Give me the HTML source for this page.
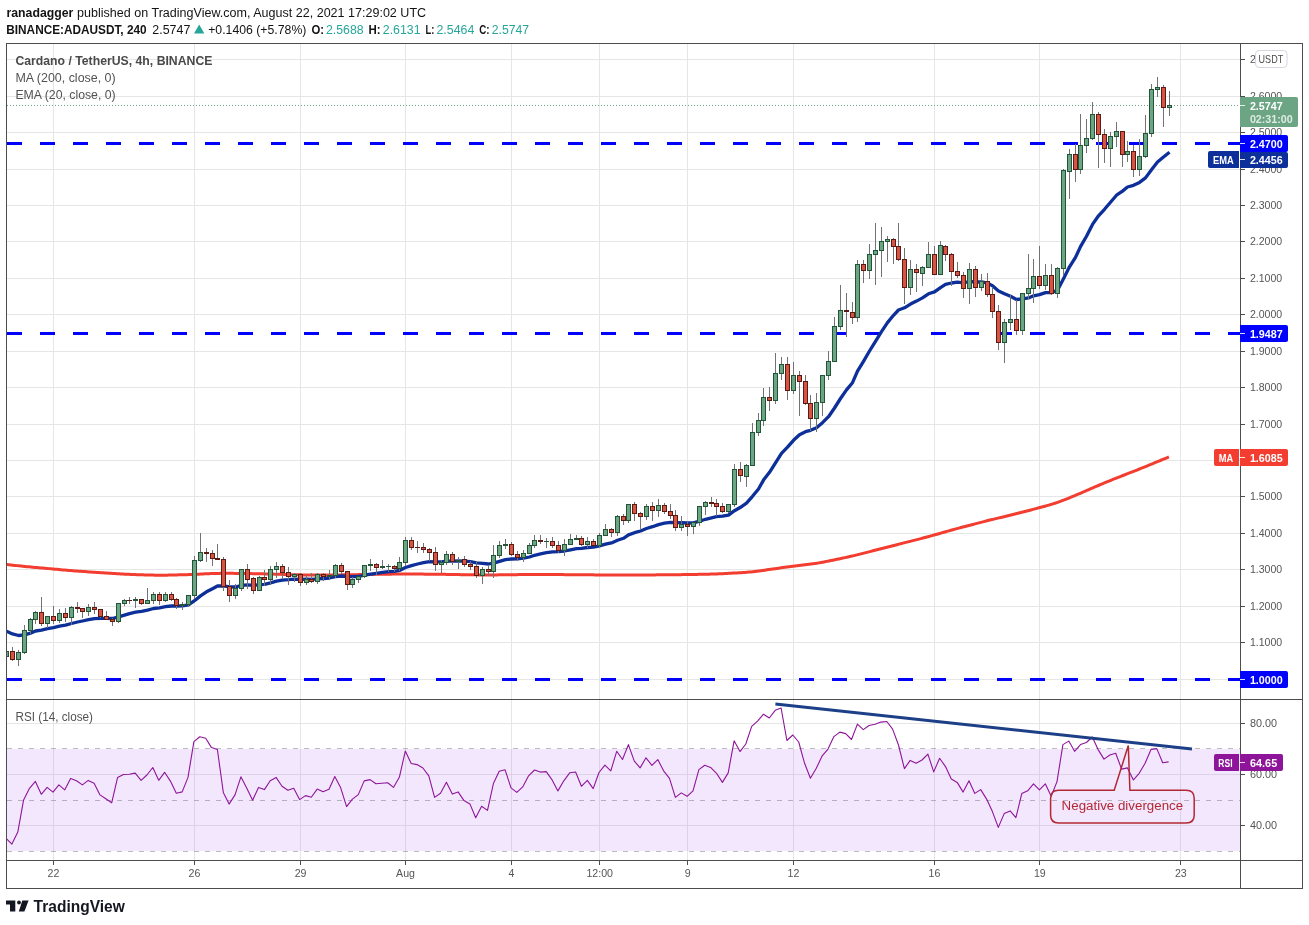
<!DOCTYPE html>
<html lang="en"><head><meta charset="utf-8"><title>ADAUSDT 4h chart</title>
<style>html,body{margin:0;padding:0;background:#fff;}svg{display:block;}</style></head>
<body>
<svg width="1309" height="925" viewBox="0 0 1309 925" font-family="Liberation Sans, Arial, sans-serif">
<rect width="1309" height="925" fill="#ffffff"/>
<text x="6.5" y="16.6" font-size="12.5" fill="#131313" font-weight="bold" text-anchor="start" textLength="66.8" lengthAdjust="spacingAndGlyphs">ranadagger</text>
<text x="77.1" y="16.6" font-size="12.5" fill="#131313" font-weight="normal" text-anchor="start" textLength="349" lengthAdjust="spacingAndGlyphs">published on TradingView.com, August 22, 2021 17:29:02 UTC</text>
<text x="6.3" y="33.8" font-size="12.5" fill="#131313" font-weight="bold" text-anchor="start" textLength="140.3" lengthAdjust="spacingAndGlyphs">BINANCE:ADAUSDT, 240</text>
<text x="152.3" y="33.8" font-size="12.5" fill="#131313" font-weight="normal" text-anchor="start" textLength="38" lengthAdjust="spacingAndGlyphs">2.5747</text>
<path d="M194.0 33.6 L199.2 24.4 L204.4 33.6 Z" fill="#26a69a"/>
<text x="208.2" y="33.8" font-size="12.5" fill="#131313" font-weight="normal" text-anchor="start" textLength="98.2" lengthAdjust="spacingAndGlyphs">+0.1406 (+5.78%)</text>
<text x="311.4" y="33.8" font-size="12.5" fill="#131313" font-weight="bold" text-anchor="start" textLength="12.6" lengthAdjust="spacingAndGlyphs">O:</text>
<text x="326" y="33.8" font-size="12.5" fill="#26a69a" font-weight="normal" text-anchor="start" textLength="37.6" lengthAdjust="spacingAndGlyphs">2.5688</text>
<text x="368.6" y="33.8" font-size="12.5" fill="#131313" font-weight="bold" text-anchor="start" textLength="12.1" lengthAdjust="spacingAndGlyphs">H:</text>
<text x="382.8" y="33.8" font-size="12.5" fill="#26a69a" font-weight="normal" text-anchor="start" textLength="37.8" lengthAdjust="spacingAndGlyphs">2.6131</text>
<text x="425.6" y="33.8" font-size="12.5" fill="#131313" font-weight="bold" text-anchor="start" textLength="8.8" lengthAdjust="spacingAndGlyphs">L:</text>
<text x="436.5" y="33.8" font-size="12.5" fill="#26a69a" font-weight="normal" text-anchor="start" textLength="37.8" lengthAdjust="spacingAndGlyphs">2.5464</text>
<text x="479.3" y="33.8" font-size="12.5" fill="#131313" font-weight="bold" text-anchor="start" textLength="10.3" lengthAdjust="spacingAndGlyphs">C:</text>
<text x="491.7" y="33.8" font-size="12.5" fill="#26a69a" font-weight="normal" text-anchor="start" textLength="37.4" lengthAdjust="spacingAndGlyphs">2.5747</text>
<g shape-rendering="crispEdges">
<rect x="53" y="44" width="1" height="816" fill="#e6e6e6"/>
<rect x="194" y="44" width="1" height="816" fill="#e6e6e6"/>
<rect x="300" y="44" width="1" height="816" fill="#e6e6e6"/>
<rect x="405" y="44" width="1" height="816" fill="#e6e6e6"/>
<rect x="511" y="44" width="1" height="816" fill="#e6e6e6"/>
<rect x="599" y="44" width="1" height="816" fill="#e6e6e6"/>
<rect x="687" y="44" width="1" height="816" fill="#e6e6e6"/>
<rect x="793" y="44" width="1" height="816" fill="#e6e6e6"/>
<rect x="934" y="44" width="1" height="816" fill="#e6e6e6"/>
<rect x="1039" y="44" width="1" height="816" fill="#e6e6e6"/>
<rect x="1180" y="44" width="1" height="816" fill="#e6e6e6"/>
<rect x="7" y="679" width="1233" height="1" fill="#e6e6e6"/>
<rect x="7" y="642" width="1233" height="1" fill="#e6e6e6"/>
<rect x="7" y="606" width="1233" height="1" fill="#e6e6e6"/>
<rect x="7" y="569" width="1233" height="1" fill="#e6e6e6"/>
<rect x="7" y="533" width="1233" height="1" fill="#e6e6e6"/>
<rect x="7" y="496" width="1233" height="1" fill="#e6e6e6"/>
<rect x="7" y="460" width="1233" height="1" fill="#e6e6e6"/>
<rect x="7" y="424" width="1233" height="1" fill="#e6e6e6"/>
<rect x="7" y="387" width="1233" height="1" fill="#e6e6e6"/>
<rect x="7" y="351" width="1233" height="1" fill="#e6e6e6"/>
<rect x="7" y="314" width="1233" height="1" fill="#e6e6e6"/>
<rect x="7" y="278" width="1233" height="1" fill="#e6e6e6"/>
<rect x="7" y="241" width="1233" height="1" fill="#e6e6e6"/>
<rect x="7" y="205" width="1233" height="1" fill="#e6e6e6"/>
<rect x="7" y="169" width="1233" height="1" fill="#e6e6e6"/>
<rect x="7" y="132" width="1233" height="1" fill="#e6e6e6"/>
<rect x="7" y="96" width="1233" height="1" fill="#e6e6e6"/>
<rect x="7" y="59" width="1233" height="1" fill="#e6e6e6"/>
<rect x="7" y="723" width="1233" height="1" fill="#e6e6e6"/>
<rect x="7" y="774" width="1233" height="1" fill="#e6e6e6"/>
<rect x="7" y="825" width="1233" height="1" fill="#e6e6e6"/>
</g>
<rect x="7" y="749" width="1233" height="102" fill="#a040f0" fill-opacity="0.125" shape-rendering="crispEdges"/>
<line x1="7" x2="1240" y1="748.5" y2="748.5" stroke="#87808c" stroke-opacity="0.55" stroke-width="1" stroke-dasharray="5 6" shape-rendering="crispEdges"/>
<line x1="7" x2="1240" y1="800.5" y2="800.5" stroke="#87808c" stroke-opacity="0.55" stroke-width="1" stroke-dasharray="5 6" shape-rendering="crispEdges"/>
<line x1="7" x2="1240" y1="851.5" y2="851.5" stroke="#87808c" stroke-opacity="0.55" stroke-width="1" stroke-dasharray="5 6" shape-rendering="crispEdges"/>
<clipPath id="cp"><rect x="7" y="44" width="1233" height="655"/></clipPath>
<g clip-path="url(#cp)">
<line x1="7" x2="1240" y1="143.5" y2="143.5" stroke="#0000ff" stroke-width="3.2" stroke-dasharray="15 18"/>
<line x1="7" x2="1240" y1="333.5" y2="333.5" stroke="#0000ff" stroke-width="3.2" stroke-dasharray="15 18"/>
<line x1="7" x2="1240" y1="679.5" y2="679.5" stroke="#0000ff" stroke-width="3.2" stroke-dasharray="15 18"/>
<line x1="7" x2="1240" y1="105.5" y2="105.5" stroke="#6ba583" stroke-width="1" stroke-dasharray="1 2" shape-rendering="crispEdges"/>
<polyline points="6.9,564.60 8.9,564.80 10.9,565.01 12.9,565.21 14.9,565.42 16.9,565.62 18.9,565.83 20.9,566.03 22.9,566.24 24.9,566.44 26.9,566.64 28.9,566.84 30.9,567.03 32.9,567.22 34.9,567.40 36.9,567.59 38.9,567.76 40.9,567.94 42.9,568.11 44.9,568.28 46.9,568.45 48.9,568.62 50.9,568.80 52.9,568.98 54.9,569.16 56.9,569.35 58.9,569.54 60.9,569.72 62.9,569.91 64.9,570.09 66.9,570.26 68.9,570.43 70.9,570.59 72.9,570.74 74.9,570.89 76.9,571.04 78.9,571.18 80.9,571.33 82.9,571.47 84.9,571.61 86.9,571.76 88.9,571.90 90.9,572.04 92.9,572.19 94.9,572.32 96.9,572.46 98.9,572.59 100.9,572.72 102.9,572.85 104.9,572.97 106.9,573.09 108.9,573.21 110.9,573.33 112.9,573.44 114.9,573.56 116.9,573.67 118.9,573.79 120.9,573.90 122.9,574.02 124.9,574.13 126.9,574.24 128.9,574.34 130.9,574.43 132.9,574.52 134.9,574.60 136.9,574.67 138.9,574.74 140.9,574.80 142.9,574.85 144.9,574.91 146.9,574.96 148.9,575.01 150.9,575.06 152.9,575.10 154.9,575.14 156.9,575.16 158.9,575.18 160.9,575.18 162.9,575.18 164.9,575.16 166.9,575.13 168.9,575.09 170.9,575.05 172.9,575.01 174.9,574.96 176.9,574.92 178.9,574.87 180.9,574.82 182.9,574.76 184.9,574.70 186.9,574.63 188.9,574.56 190.9,574.48 192.9,574.40 194.9,574.31 196.9,574.22 198.9,574.13 200.9,574.04 202.9,573.95 204.9,573.86 206.9,573.77 208.9,573.68 210.9,573.60 212.9,573.53 214.9,573.47 216.9,573.42 218.9,573.39 220.9,573.36 222.9,573.35 224.9,573.34 226.9,573.35 228.9,573.35 230.9,573.36 232.9,573.37 234.9,573.39 236.9,573.40 238.9,573.42 240.9,573.45 242.9,573.47 244.9,573.50 246.9,573.54 248.9,573.57 250.9,573.61 252.9,573.65 254.9,573.69 256.9,573.73 258.9,573.77 260.9,573.81 262.9,573.85 264.9,573.90 266.9,573.95 268.9,574.00 270.9,574.05 272.9,574.11 274.9,574.16 276.9,574.22 278.9,574.28 280.9,574.34 282.9,574.40 284.9,574.46 286.9,574.51 288.9,574.57 290.9,574.63 292.9,574.68 294.9,574.73 296.9,574.78 298.9,574.82 300.9,574.85 302.9,574.88 304.9,574.90 306.9,574.91 308.9,574.92 310.9,574.93 312.9,574.94 314.9,574.95 316.9,574.95 318.9,574.96 320.9,574.96 322.9,574.97 324.9,574.97 326.9,574.97 328.9,574.97 330.9,574.97 332.9,574.96 334.9,574.94 336.9,574.92 338.9,574.90 340.9,574.88 342.9,574.85 344.9,574.82 346.9,574.79 348.9,574.76 350.9,574.73 352.9,574.70 354.9,574.67 356.9,574.64 358.9,574.61 360.9,574.58 362.9,574.55 364.9,574.52 366.9,574.49 368.9,574.46 370.9,574.43 372.9,574.40 374.9,574.37 376.9,574.34 378.9,574.31 380.9,574.28 382.9,574.25 384.9,574.22 386.9,574.19 388.9,574.16 390.9,574.14 392.9,574.11 394.9,574.09 396.9,574.07 398.9,574.05 400.9,574.04 402.9,574.04 404.9,574.04 406.9,574.04 408.9,574.05 410.9,574.06 412.9,574.07 414.9,574.08 416.9,574.09 418.9,574.10 420.9,574.11 422.9,574.12 424.9,574.13 426.9,574.14 428.9,574.15 430.9,574.17 432.9,574.18 434.9,574.20 436.9,574.22 438.9,574.25 440.9,574.28 442.9,574.31 444.9,574.35 446.9,574.38 448.9,574.42 450.9,574.46 452.9,574.50 454.9,574.54 456.9,574.58 458.9,574.61 460.9,574.65 462.9,574.68 464.9,574.71 466.9,574.74 468.9,574.77 470.9,574.79 472.9,574.81 474.9,574.84 476.9,574.86 478.9,574.88 480.9,574.90 482.9,574.92 484.9,574.93 486.9,574.94 488.9,574.94 490.9,574.94 492.9,574.93 494.9,574.91 496.9,574.89 498.9,574.87 500.9,574.84 502.9,574.82 504.9,574.79 506.9,574.77 508.9,574.74 510.9,574.71 512.9,574.69 514.9,574.66 516.9,574.64 518.9,574.61 520.9,574.58 522.9,574.56 524.9,574.53 526.9,574.51 528.9,574.49 530.9,574.47 532.9,574.46 534.9,574.45 536.9,574.45 538.9,574.45 540.9,574.46 542.9,574.47 544.9,574.48 546.9,574.50 548.9,574.51 550.9,574.53 552.9,574.54 554.9,574.56 556.9,574.58 558.9,574.59 560.9,574.61 562.9,574.62 564.9,574.64 566.9,574.66 568.9,574.67 570.9,574.69 572.9,574.70 574.9,574.72 576.9,574.74 578.9,574.75 580.9,574.77 582.9,574.78 584.9,574.80 586.9,574.82 588.9,574.83 590.9,574.85 592.9,574.87 594.9,574.88 596.9,574.90 598.9,574.92 600.9,574.94 602.9,574.95 604.9,574.97 606.9,574.99 608.9,575.00 610.9,575.02 612.9,575.03 614.9,575.05 616.9,575.06 618.9,575.06 620.9,575.07 622.9,575.07 624.9,575.06 626.9,575.05 628.9,575.04 630.9,575.03 632.9,575.02 634.9,575.01 636.9,575.00 638.9,574.99 640.9,574.97 642.9,574.96 644.9,574.95 646.9,574.94 648.9,574.92 650.9,574.91 652.9,574.90 654.9,574.88 656.9,574.86 658.9,574.85 660.9,574.83 662.9,574.81 664.9,574.80 666.9,574.78 668.9,574.76 670.9,574.74 672.9,574.72 674.9,574.71 676.9,574.69 678.9,574.67 680.9,574.65 682.9,574.62 684.9,574.60 686.9,574.57 688.9,574.54 690.9,574.50 692.9,574.46 694.9,574.42 696.9,574.38 698.9,574.34 700.9,574.30 702.9,574.26 704.9,574.22 706.9,574.17 708.9,574.13 710.9,574.09 712.9,574.04 714.9,573.98 716.9,573.92 718.9,573.85 720.9,573.77 722.9,573.68 724.9,573.58 726.9,573.47 728.9,573.36 730.9,573.24 732.9,573.12 734.9,573.00 736.9,572.88 738.9,572.76 740.9,572.64 742.9,572.52 744.9,572.39 746.9,572.24 748.9,572.09 750.9,571.91 752.9,571.72 754.9,571.50 756.9,571.26 758.9,571.00 760.9,570.73 762.9,570.44 764.9,570.15 766.9,569.85 768.9,569.56 770.9,569.27 772.9,568.98 774.9,568.69 776.9,568.41 778.9,568.14 780.9,567.86 782.9,567.59 784.9,567.32 786.9,567.05 788.9,566.79 790.9,566.53 792.9,566.27 794.9,566.01 796.9,565.75 798.9,565.50 800.9,565.25 802.9,565.00 804.9,564.75 806.9,564.51 808.9,564.26 810.9,564.00 812.9,563.74 814.9,563.46 816.9,563.17 818.9,562.86 820.9,562.52 822.9,562.17 824.9,561.79 826.9,561.40 828.9,561.00 830.9,560.58 832.9,560.17 834.9,559.75 836.9,559.33 838.9,558.91 840.9,558.49 842.9,558.06 844.9,557.64 846.9,557.21 848.9,556.77 850.9,556.32 852.9,555.86 854.9,555.38 856.9,554.90 858.9,554.40 860.9,553.90 862.9,553.39 864.9,552.88 866.9,552.36 868.9,551.85 870.9,551.33 872.9,550.81 874.9,550.30 876.9,549.78 878.9,549.26 880.9,548.75 882.9,548.24 884.9,547.72 886.9,547.21 888.9,546.70 890.9,546.19 892.9,545.69 894.9,545.18 896.9,544.68 898.9,544.17 900.9,543.67 902.9,543.16 904.9,542.66 906.9,542.15 908.9,541.65 910.9,541.14 912.9,540.64 914.9,540.13 916.9,539.61 918.9,539.10 920.9,538.58 922.9,538.06 924.9,537.53 926.9,537.00 928.9,536.46 930.9,535.92 932.9,535.37 934.9,534.82 936.9,534.26 938.9,533.69 940.9,533.12 942.9,532.55 944.9,531.98 946.9,531.41 948.9,530.84 950.9,530.28 952.9,529.72 954.9,529.17 956.9,528.63 958.9,528.10 960.9,527.57 962.9,527.04 964.9,526.52 966.9,525.99 968.9,525.47 970.9,524.95 972.9,524.43 974.9,523.90 976.9,523.38 978.9,522.86 980.9,522.35 982.9,521.84 984.9,521.33 986.9,520.82 988.9,520.33 990.9,519.83 992.9,519.35 994.9,518.86 996.9,518.38 998.9,517.90 1000.9,517.42 1002.9,516.94 1004.9,516.46 1006.9,515.97 1008.9,515.49 1010.9,515.01 1012.9,514.53 1014.9,514.04 1016.9,513.54 1018.9,513.04 1020.9,512.54 1022.9,512.02 1024.9,511.51 1026.9,510.99 1028.9,510.46 1030.9,509.93 1032.9,509.40 1034.9,508.87 1036.9,508.33 1038.9,507.80 1040.9,507.26 1042.9,506.72 1044.9,506.18 1046.9,505.63 1048.9,505.08 1050.9,504.50 1052.9,503.90 1054.9,503.27 1056.9,502.61 1058.9,501.92 1060.9,501.19 1062.9,500.43 1064.9,499.65 1066.9,498.85 1068.9,498.04 1070.9,497.22 1072.9,496.40 1074.9,495.57 1076.9,494.73 1078.9,493.89 1080.9,493.04 1082.9,492.19 1084.9,491.33 1086.9,490.46 1088.9,489.59 1090.9,488.72 1092.9,487.85 1094.9,486.98 1096.9,486.11 1098.9,485.25 1100.9,484.40 1102.9,483.56 1104.9,482.72 1106.9,481.90 1108.9,481.09 1110.9,480.28 1112.9,479.48 1114.9,478.69 1116.9,477.89 1118.9,477.10 1120.9,476.31 1122.9,475.52 1124.9,474.74 1126.9,473.95 1128.9,473.17 1130.9,472.38 1132.9,471.60 1134.9,470.81 1136.9,470.03 1138.9,469.24 1140.9,468.44 1142.9,467.64 1144.9,466.83 1146.9,466.02 1148.9,465.20 1150.9,464.38 1152.9,463.55 1154.9,462.72 1156.9,461.90 1158.9,461.07 1160.9,460.25 1162.9,459.43 1164.9,458.61 1166.9,457.79 1168.9,456.97" fill="none" stroke="#f23d30" stroke-width="3.0" stroke-linejoin="round" stroke-linecap="butt"/>
<polyline points="6.5,631.3 12.5,633.9 18.5,635.5 24.5,634.9 30.5,633.2 35.5,631.0 41.5,630.1 47.5,628.6 53.5,627.6 59.5,626.1 65.5,625.2 71.5,623.5 77.5,622.0 82.5,621.0 88.5,619.7 94.5,618.6 100.5,618.3 106.5,618.3 112.5,618.5 118.5,616.9 124.5,615.1 129.5,613.6 135.5,612.2 141.5,611.3 147.5,610.1 153.5,608.5 159.5,607.8 165.5,606.7 171.5,606.0 176.5,606.0 182.5,605.8 188.5,604.9 194.5,600.7 200.5,595.9 206.5,591.8 212.5,588.7 217.5,586.0 223.5,585.9 229.5,586.8 235.5,587.0 241.5,585.4 247.5,584.9 253.5,585.4 259.5,584.7 264.5,584.3 270.5,582.8 276.5,581.1 282.5,580.1 288.5,579.7 294.5,579.1 300.5,579.3 306.5,579.2 311.5,579.4 317.5,578.8 323.5,578.5 329.5,578.0 335.5,576.7 341.5,576.0 347.5,576.6 352.5,576.6 358.5,576.5 364.5,575.2 370.5,574.1 376.5,573.3 382.5,572.4 388.5,571.7 394.5,571.3 399.5,570.4 405.5,567.5 411.5,565.6 417.5,564.0 423.5,562.6 429.5,561.6 435.5,561.8 441.5,561.8 446.5,561.1 452.5,561.1 458.5,561.0 464.5,561.2 470.5,561.6 476.5,562.8 482.5,563.3 488.5,564.0 493.5,563.1 499.5,561.3 505.5,559.6 511.5,559.0 517.5,558.8 523.5,558.2 529.5,557.0 534.5,555.3 540.5,553.9 546.5,552.7 552.5,551.9 558.5,551.7 564.5,551.0 570.5,549.8 576.5,548.7 581.5,548.3 587.5,547.5 593.5,547.2 599.5,545.9 605.5,544.2 611.5,542.9 617.5,540.3 623.5,538.3 628.5,534.9 634.5,532.7 640.5,531.0 646.5,528.5 652.5,526.7 658.5,524.6 664.5,523.2 670.5,522.4 675.5,522.7 681.5,522.7 687.5,523.0 693.5,522.8 699.5,521.2 705.5,519.3 711.5,517.8 716.5,516.7 722.5,516.2 728.5,515.1 734.5,510.7 740.5,507.3 746.5,503.2 752.5,496.3 758.5,489.0 763.5,480.1 769.5,472.3 775.5,462.8 781.5,453.3 787.5,447.2 793.5,440.3 799.5,434.7 805.5,431.7 810.5,430.3 816.5,427.7 822.5,422.7 828.5,416.7 834.5,408.0 840.5,398.5 846.5,389.9 852.5,382.7 857.5,371.2 863.5,361.3 869.5,351.0 875.5,341.3 881.5,331.6 887.5,322.6 893.5,315.3 898.5,310.0 904.5,307.8 910.5,304.1 916.5,301.1 922.5,297.9 928.5,293.8 934.5,291.9 940.5,287.6 945.5,284.4 951.5,283.0 957.5,282.2 963.5,282.8 969.5,281.5 975.5,282.0 981.5,281.9 987.5,283.1 992.5,285.7 998.5,290.9 1004.5,293.7 1010.5,296.2 1016.5,299.5 1022.5,298.9 1028.5,297.9 1033.5,295.8 1039.5,294.6 1045.5,292.6 1051.5,292.6 1057.5,290.2 1063.5,278.8 1069.5,266.8 1075.5,257.4 1080.5,246.6 1086.5,236.2 1092.5,224.4 1098.5,215.8 1104.5,209.3 1110.5,202.2 1116.5,195.2 1122.5,191.1 1127.5,187.0 1133.5,185.3 1139.5,182.4 1145.5,177.9 1151.5,169.7 1157.5,162.0 1163.5,157.0 1169.5,152.3" fill="none" stroke="#0c2f9a" stroke-width="3.3" stroke-linejoin="round" stroke-linecap="butt"/>
<g shape-rendering="crispEdges">
<rect x="6" y="651" width="1" height="6" fill="#737375"/>
<rect x="4" y="651" width="5" height="6" fill="#225437"/>
<rect x="5" y="652" width="3" height="4" fill="#6ba583"/>
<rect x="12" y="647" width="1" height="14" fill="#737375"/>
<rect x="10" y="651" width="5" height="9" fill="#5b1a13"/>
<rect x="11" y="652" width="3" height="7" fill="#d75442"/>
<rect x="18" y="650" width="1" height="16" fill="#737375"/>
<rect x="16" y="652" width="5" height="8" fill="#225437"/>
<rect x="17" y="653" width="3" height="6" fill="#6ba583"/>
<rect x="24" y="625" width="1" height="29" fill="#737375"/>
<rect x="22" y="630" width="5" height="23" fill="#225437"/>
<rect x="23" y="631" width="3" height="21" fill="#6ba583"/>
<rect x="30" y="618" width="1" height="16" fill="#737375"/>
<rect x="28" y="619" width="5" height="12" fill="#225437"/>
<rect x="29" y="620" width="3" height="10" fill="#6ba583"/>
<rect x="35" y="611" width="1" height="13" fill="#737375"/>
<rect x="33" y="612" width="5" height="8" fill="#225437"/>
<rect x="34" y="613" width="3" height="6" fill="#6ba583"/>
<rect x="41" y="597" width="1" height="29" fill="#737375"/>
<rect x="39" y="612" width="5" height="12" fill="#5b1a13"/>
<rect x="40" y="613" width="3" height="10" fill="#d75442"/>
<rect x="47" y="616" width="1" height="12" fill="#737375"/>
<rect x="45" y="616" width="5" height="8" fill="#225437"/>
<rect x="46" y="617" width="3" height="6" fill="#6ba583"/>
<rect x="53" y="606" width="1" height="18" fill="#737375"/>
<rect x="51" y="616" width="5" height="5" fill="#5b1a13"/>
<rect x="52" y="617" width="3" height="3" fill="#d75442"/>
<rect x="59" y="609" width="1" height="14" fill="#737375"/>
<rect x="57" y="613" width="5" height="8" fill="#225437"/>
<rect x="58" y="614" width="3" height="6" fill="#6ba583"/>
<rect x="65" y="608" width="1" height="14" fill="#737375"/>
<rect x="63" y="613" width="5" height="5" fill="#5b1a13"/>
<rect x="64" y="614" width="3" height="3" fill="#d75442"/>
<rect x="71" y="606" width="1" height="19" fill="#737375"/>
<rect x="69" y="607" width="5" height="11" fill="#225437"/>
<rect x="70" y="608" width="3" height="9" fill="#6ba583"/>
<rect x="77" y="602" width="1" height="11" fill="#737375"/>
<rect x="75" y="607" width="5" height="2" fill="#5b1a13"/>
<rect x="82" y="608" width="1" height="10" fill="#737375"/>
<rect x="80" y="608" width="5" height="4" fill="#5b1a13"/>
<rect x="81" y="609" width="3" height="2" fill="#d75442"/>
<rect x="88" y="604" width="1" height="12" fill="#737375"/>
<rect x="86" y="607" width="5" height="5" fill="#225437"/>
<rect x="87" y="608" width="3" height="3" fill="#6ba583"/>
<rect x="94" y="602" width="1" height="12" fill="#737375"/>
<rect x="92" y="607" width="5" height="3" fill="#5b1a13"/>
<rect x="93" y="608" width="3" height="1" fill="#d75442"/>
<rect x="100" y="609" width="1" height="9" fill="#737375"/>
<rect x="98" y="609" width="5" height="8" fill="#5b1a13"/>
<rect x="99" y="610" width="3" height="6" fill="#d75442"/>
<rect x="106" y="611" width="1" height="9" fill="#737375"/>
<rect x="104" y="616" width="5" height="4" fill="#5b1a13"/>
<rect x="105" y="617" width="3" height="2" fill="#d75442"/>
<rect x="112" y="618" width="1" height="8" fill="#737375"/>
<rect x="110" y="619" width="5" height="3" fill="#5b1a13"/>
<rect x="111" y="620" width="3" height="1" fill="#d75442"/>
<rect x="118" y="603" width="1" height="20" fill="#737375"/>
<rect x="116" y="603" width="5" height="19" fill="#225437"/>
<rect x="117" y="604" width="3" height="17" fill="#6ba583"/>
<rect x="124" y="599" width="1" height="7" fill="#737375"/>
<rect x="122" y="600" width="5" height="4" fill="#225437"/>
<rect x="123" y="601" width="3" height="2" fill="#6ba583"/>
<rect x="129" y="597" width="1" height="7" fill="#737375"/>
<rect x="127" y="600" width="5" height="1" fill="#5b1a13"/>
<rect x="135" y="597" width="1" height="11" fill="#737375"/>
<rect x="133" y="599" width="5" height="2" fill="#225437"/>
<rect x="141" y="599" width="1" height="6" fill="#737375"/>
<rect x="139" y="599" width="5" height="5" fill="#5b1a13"/>
<rect x="140" y="600" width="3" height="3" fill="#d75442"/>
<rect x="147" y="588" width="1" height="16" fill="#737375"/>
<rect x="145" y="600" width="5" height="4" fill="#225437"/>
<rect x="146" y="601" width="3" height="2" fill="#6ba583"/>
<rect x="153" y="592" width="1" height="12" fill="#737375"/>
<rect x="151" y="594" width="5" height="7" fill="#225437"/>
<rect x="152" y="595" width="3" height="5" fill="#6ba583"/>
<rect x="159" y="592" width="1" height="13" fill="#737375"/>
<rect x="157" y="594" width="5" height="7" fill="#5b1a13"/>
<rect x="158" y="595" width="3" height="5" fill="#d75442"/>
<rect x="165" y="592" width="1" height="10" fill="#737375"/>
<rect x="163" y="594" width="5" height="7" fill="#225437"/>
<rect x="164" y="595" width="3" height="5" fill="#6ba583"/>
<rect x="171" y="592" width="1" height="9" fill="#737375"/>
<rect x="169" y="594" width="5" height="6" fill="#5b1a13"/>
<rect x="170" y="595" width="3" height="4" fill="#d75442"/>
<rect x="176" y="598" width="1" height="11" fill="#737375"/>
<rect x="174" y="599" width="5" height="7" fill="#5b1a13"/>
<rect x="175" y="600" width="3" height="5" fill="#d75442"/>
<rect x="182" y="602" width="1" height="8" fill="#737375"/>
<rect x="180" y="604" width="5" height="2" fill="#225437"/>
<rect x="188" y="595" width="1" height="12" fill="#737375"/>
<rect x="186" y="595" width="5" height="10" fill="#225437"/>
<rect x="187" y="596" width="3" height="8" fill="#6ba583"/>
<rect x="194" y="556" width="1" height="43" fill="#737375"/>
<rect x="192" y="560" width="5" height="36" fill="#225437"/>
<rect x="193" y="561" width="3" height="34" fill="#6ba583"/>
<rect x="200" y="533" width="1" height="29" fill="#737375"/>
<rect x="198" y="552" width="5" height="9" fill="#225437"/>
<rect x="199" y="553" width="3" height="7" fill="#6ba583"/>
<rect x="206" y="548" width="1" height="14" fill="#737375"/>
<rect x="204" y="552" width="5" height="2" fill="#5b1a13"/>
<rect x="212" y="550" width="1" height="16" fill="#737375"/>
<rect x="210" y="553" width="5" height="6" fill="#5b1a13"/>
<rect x="211" y="554" width="3" height="4" fill="#d75442"/>
<rect x="217" y="544" width="1" height="16" fill="#737375"/>
<rect x="215" y="558" width="5" height="2" fill="#5b1a13"/>
<rect x="223" y="557" width="1" height="34" fill="#737375"/>
<rect x="221" y="559" width="5" height="28" fill="#5b1a13"/>
<rect x="222" y="560" width="3" height="26" fill="#d75442"/>
<rect x="229" y="580" width="1" height="22" fill="#737375"/>
<rect x="227" y="586" width="5" height="10" fill="#5b1a13"/>
<rect x="228" y="587" width="3" height="8" fill="#d75442"/>
<rect x="235" y="584" width="1" height="15" fill="#737375"/>
<rect x="233" y="588" width="5" height="8" fill="#225437"/>
<rect x="234" y="589" width="3" height="6" fill="#6ba583"/>
<rect x="241" y="569" width="1" height="22" fill="#737375"/>
<rect x="239" y="569" width="5" height="20" fill="#225437"/>
<rect x="240" y="570" width="3" height="18" fill="#6ba583"/>
<rect x="247" y="564" width="1" height="25" fill="#737375"/>
<rect x="245" y="569" width="5" height="11" fill="#5b1a13"/>
<rect x="246" y="570" width="3" height="9" fill="#d75442"/>
<rect x="253" y="577" width="1" height="17" fill="#737375"/>
<rect x="251" y="578" width="5" height="13" fill="#5b1a13"/>
<rect x="252" y="579" width="3" height="11" fill="#d75442"/>
<rect x="259" y="576" width="1" height="15" fill="#737375"/>
<rect x="257" y="577" width="5" height="14" fill="#225437"/>
<rect x="258" y="578" width="3" height="12" fill="#6ba583"/>
<rect x="264" y="570" width="1" height="16" fill="#737375"/>
<rect x="262" y="577" width="5" height="3" fill="#5b1a13"/>
<rect x="263" y="578" width="3" height="1" fill="#d75442"/>
<rect x="270" y="566" width="1" height="19" fill="#737375"/>
<rect x="268" y="569" width="5" height="11" fill="#225437"/>
<rect x="269" y="570" width="3" height="9" fill="#6ba583"/>
<rect x="276" y="562" width="1" height="16" fill="#737375"/>
<rect x="274" y="566" width="5" height="4" fill="#225437"/>
<rect x="275" y="567" width="3" height="2" fill="#6ba583"/>
<rect x="282" y="564" width="1" height="15" fill="#737375"/>
<rect x="280" y="566" width="5" height="7" fill="#5b1a13"/>
<rect x="281" y="567" width="3" height="5" fill="#d75442"/>
<rect x="288" y="567" width="1" height="18" fill="#737375"/>
<rect x="286" y="572" width="5" height="5" fill="#5b1a13"/>
<rect x="287" y="573" width="3" height="3" fill="#d75442"/>
<rect x="294" y="573" width="1" height="9" fill="#737375"/>
<rect x="292" y="574" width="5" height="3" fill="#225437"/>
<rect x="293" y="575" width="3" height="1" fill="#6ba583"/>
<rect x="300" y="573" width="1" height="13" fill="#737375"/>
<rect x="298" y="574" width="5" height="9" fill="#5b1a13"/>
<rect x="299" y="575" width="3" height="7" fill="#d75442"/>
<rect x="306" y="575" width="1" height="10" fill="#737375"/>
<rect x="304" y="579" width="5" height="4" fill="#225437"/>
<rect x="305" y="580" width="3" height="2" fill="#6ba583"/>
<rect x="311" y="573" width="1" height="10" fill="#737375"/>
<rect x="309" y="579" width="5" height="3" fill="#5b1a13"/>
<rect x="310" y="580" width="3" height="1" fill="#d75442"/>
<rect x="317" y="573" width="1" height="11" fill="#737375"/>
<rect x="315" y="574" width="5" height="8" fill="#225437"/>
<rect x="316" y="575" width="3" height="6" fill="#6ba583"/>
<rect x="323" y="573" width="1" height="8" fill="#737375"/>
<rect x="321" y="574" width="5" height="3" fill="#5b1a13"/>
<rect x="322" y="575" width="3" height="1" fill="#d75442"/>
<rect x="329" y="570" width="1" height="9" fill="#737375"/>
<rect x="327" y="575" width="5" height="2" fill="#225437"/>
<rect x="335" y="564" width="1" height="14" fill="#737375"/>
<rect x="333" y="565" width="5" height="11" fill="#225437"/>
<rect x="334" y="566" width="3" height="9" fill="#6ba583"/>
<rect x="341" y="563" width="1" height="11" fill="#737375"/>
<rect x="339" y="565" width="5" height="7" fill="#5b1a13"/>
<rect x="340" y="566" width="3" height="5" fill="#d75442"/>
<rect x="347" y="571" width="1" height="19" fill="#737375"/>
<rect x="345" y="571" width="5" height="14" fill="#5b1a13"/>
<rect x="346" y="572" width="3" height="12" fill="#d75442"/>
<rect x="352" y="577" width="1" height="11" fill="#737375"/>
<rect x="350" y="579" width="5" height="6" fill="#225437"/>
<rect x="351" y="580" width="3" height="4" fill="#6ba583"/>
<rect x="358" y="576" width="1" height="7" fill="#737375"/>
<rect x="356" y="576" width="5" height="4" fill="#225437"/>
<rect x="357" y="577" width="3" height="2" fill="#6ba583"/>
<rect x="364" y="565" width="1" height="13" fill="#737375"/>
<rect x="362" y="565" width="5" height="12" fill="#225437"/>
<rect x="363" y="566" width="3" height="10" fill="#6ba583"/>
<rect x="370" y="559" width="1" height="12" fill="#737375"/>
<rect x="368" y="564" width="5" height="2" fill="#225437"/>
<rect x="376" y="563" width="1" height="12" fill="#737375"/>
<rect x="374" y="564" width="5" height="4" fill="#5b1a13"/>
<rect x="375" y="565" width="3" height="2" fill="#d75442"/>
<rect x="382" y="560" width="1" height="9" fill="#737375"/>
<rect x="380" y="566" width="5" height="2" fill="#225437"/>
<rect x="388" y="564" width="1" height="8" fill="#737375"/>
<rect x="386" y="566" width="5" height="1" fill="#225437"/>
<rect x="394" y="565" width="1" height="7" fill="#737375"/>
<rect x="392" y="566" width="5" height="3" fill="#5b1a13"/>
<rect x="393" y="567" width="3" height="1" fill="#d75442"/>
<rect x="399" y="557" width="1" height="14" fill="#737375"/>
<rect x="397" y="562" width="5" height="7" fill="#225437"/>
<rect x="398" y="563" width="3" height="5" fill="#6ba583"/>
<rect x="405" y="537" width="1" height="29" fill="#737375"/>
<rect x="403" y="540" width="5" height="23" fill="#225437"/>
<rect x="404" y="541" width="3" height="21" fill="#6ba583"/>
<rect x="411" y="537" width="1" height="13" fill="#737375"/>
<rect x="409" y="540" width="5" height="8" fill="#5b1a13"/>
<rect x="410" y="541" width="3" height="6" fill="#d75442"/>
<rect x="417" y="541" width="1" height="12" fill="#737375"/>
<rect x="415" y="547" width="5" height="1" fill="#5b1a13"/>
<rect x="423" y="543" width="1" height="10" fill="#737375"/>
<rect x="421" y="547" width="5" height="3" fill="#5b1a13"/>
<rect x="422" y="548" width="3" height="1" fill="#d75442"/>
<rect x="429" y="548" width="1" height="13" fill="#737375"/>
<rect x="427" y="549" width="5" height="4" fill="#5b1a13"/>
<rect x="428" y="550" width="3" height="2" fill="#d75442"/>
<rect x="435" y="547" width="1" height="24" fill="#737375"/>
<rect x="433" y="552" width="5" height="13" fill="#5b1a13"/>
<rect x="434" y="553" width="3" height="11" fill="#d75442"/>
<rect x="441" y="560" width="1" height="13" fill="#737375"/>
<rect x="439" y="562" width="5" height="3" fill="#225437"/>
<rect x="440" y="563" width="3" height="1" fill="#6ba583"/>
<rect x="446" y="551" width="1" height="14" fill="#737375"/>
<rect x="444" y="554" width="5" height="9" fill="#225437"/>
<rect x="445" y="555" width="3" height="7" fill="#6ba583"/>
<rect x="452" y="552" width="1" height="13" fill="#737375"/>
<rect x="450" y="554" width="5" height="8" fill="#5b1a13"/>
<rect x="451" y="555" width="3" height="6" fill="#d75442"/>
<rect x="458" y="557" width="1" height="12" fill="#737375"/>
<rect x="456" y="560" width="5" height="2" fill="#225437"/>
<rect x="464" y="556" width="1" height="11" fill="#737375"/>
<rect x="462" y="559" width="5" height="6" fill="#5b1a13"/>
<rect x="463" y="560" width="3" height="4" fill="#d75442"/>
<rect x="470" y="561" width="1" height="9" fill="#737375"/>
<rect x="468" y="564" width="5" height="3" fill="#5b1a13"/>
<rect x="469" y="565" width="3" height="1" fill="#d75442"/>
<rect x="476" y="561" width="1" height="17" fill="#737375"/>
<rect x="474" y="566" width="5" height="10" fill="#5b1a13"/>
<rect x="475" y="567" width="3" height="8" fill="#d75442"/>
<rect x="482" y="567" width="1" height="17" fill="#737375"/>
<rect x="480" y="569" width="5" height="7" fill="#225437"/>
<rect x="481" y="570" width="3" height="5" fill="#6ba583"/>
<rect x="488" y="566" width="1" height="10" fill="#737375"/>
<rect x="486" y="569" width="5" height="3" fill="#5b1a13"/>
<rect x="487" y="570" width="3" height="1" fill="#d75442"/>
<rect x="493" y="545" width="1" height="33" fill="#737375"/>
<rect x="491" y="555" width="5" height="17" fill="#225437"/>
<rect x="492" y="556" width="3" height="15" fill="#6ba583"/>
<rect x="499" y="541" width="1" height="17" fill="#737375"/>
<rect x="497" y="545" width="5" height="11" fill="#225437"/>
<rect x="498" y="546" width="3" height="9" fill="#6ba583"/>
<rect x="505" y="539" width="1" height="10" fill="#737375"/>
<rect x="503" y="544" width="5" height="2" fill="#225437"/>
<rect x="511" y="542" width="1" height="14" fill="#737375"/>
<rect x="509" y="544" width="5" height="11" fill="#5b1a13"/>
<rect x="510" y="545" width="3" height="9" fill="#d75442"/>
<rect x="517" y="551" width="1" height="10" fill="#737375"/>
<rect x="515" y="554" width="5" height="4" fill="#5b1a13"/>
<rect x="516" y="555" width="3" height="2" fill="#d75442"/>
<rect x="523" y="550" width="1" height="12" fill="#737375"/>
<rect x="521" y="553" width="5" height="5" fill="#225437"/>
<rect x="522" y="554" width="3" height="3" fill="#6ba583"/>
<rect x="529" y="543" width="1" height="11" fill="#737375"/>
<rect x="527" y="545" width="5" height="9" fill="#225437"/>
<rect x="528" y="546" width="3" height="7" fill="#6ba583"/>
<rect x="534" y="535" width="1" height="13" fill="#737375"/>
<rect x="532" y="540" width="5" height="6" fill="#225437"/>
<rect x="533" y="541" width="3" height="4" fill="#6ba583"/>
<rect x="540" y="535" width="1" height="9" fill="#737375"/>
<rect x="538" y="540" width="5" height="2" fill="#5b1a13"/>
<rect x="546" y="538" width="1" height="10" fill="#737375"/>
<rect x="544" y="541" width="5" height="1" fill="#225437"/>
<rect x="552" y="537" width="1" height="11" fill="#737375"/>
<rect x="550" y="541" width="5" height="5" fill="#5b1a13"/>
<rect x="551" y="542" width="3" height="3" fill="#d75442"/>
<rect x="558" y="541" width="1" height="12" fill="#737375"/>
<rect x="556" y="545" width="5" height="6" fill="#5b1a13"/>
<rect x="557" y="546" width="3" height="4" fill="#d75442"/>
<rect x="564" y="539" width="1" height="17" fill="#737375"/>
<rect x="562" y="544" width="5" height="7" fill="#225437"/>
<rect x="563" y="545" width="3" height="5" fill="#6ba583"/>
<rect x="570" y="534" width="1" height="11" fill="#737375"/>
<rect x="568" y="539" width="5" height="6" fill="#225437"/>
<rect x="569" y="540" width="3" height="4" fill="#6ba583"/>
<rect x="576" y="535" width="1" height="5" fill="#737375"/>
<rect x="574" y="538" width="5" height="2" fill="#225437"/>
<rect x="581" y="536" width="1" height="10" fill="#737375"/>
<rect x="579" y="538" width="5" height="7" fill="#5b1a13"/>
<rect x="580" y="539" width="3" height="5" fill="#d75442"/>
<rect x="587" y="537" width="1" height="11" fill="#737375"/>
<rect x="585" y="541" width="5" height="4" fill="#225437"/>
<rect x="586" y="542" width="3" height="2" fill="#6ba583"/>
<rect x="593" y="539" width="1" height="7" fill="#737375"/>
<rect x="591" y="541" width="5" height="5" fill="#5b1a13"/>
<rect x="592" y="542" width="3" height="3" fill="#d75442"/>
<rect x="599" y="533" width="1" height="15" fill="#737375"/>
<rect x="597" y="535" width="5" height="11" fill="#225437"/>
<rect x="598" y="536" width="3" height="9" fill="#6ba583"/>
<rect x="605" y="524" width="1" height="12" fill="#737375"/>
<rect x="603" y="529" width="5" height="7" fill="#225437"/>
<rect x="604" y="530" width="3" height="5" fill="#6ba583"/>
<rect x="611" y="528" width="1" height="9" fill="#737375"/>
<rect x="609" y="529" width="5" height="4" fill="#5b1a13"/>
<rect x="610" y="530" width="3" height="2" fill="#d75442"/>
<rect x="617" y="515" width="1" height="21" fill="#737375"/>
<rect x="615" y="516" width="5" height="17" fill="#225437"/>
<rect x="616" y="517" width="3" height="15" fill="#6ba583"/>
<rect x="623" y="514" width="1" height="11" fill="#737375"/>
<rect x="621" y="516" width="5" height="5" fill="#5b1a13"/>
<rect x="622" y="517" width="3" height="3" fill="#d75442"/>
<rect x="628" y="504" width="1" height="19" fill="#737375"/>
<rect x="626" y="504" width="5" height="17" fill="#225437"/>
<rect x="627" y="505" width="3" height="15" fill="#6ba583"/>
<rect x="634" y="502" width="1" height="19" fill="#737375"/>
<rect x="632" y="504" width="5" height="10" fill="#5b1a13"/>
<rect x="633" y="505" width="3" height="8" fill="#d75442"/>
<rect x="640" y="512" width="1" height="18" fill="#737375"/>
<rect x="638" y="513" width="5" height="4" fill="#5b1a13"/>
<rect x="639" y="514" width="3" height="2" fill="#d75442"/>
<rect x="646" y="504" width="1" height="16" fill="#737375"/>
<rect x="644" y="506" width="5" height="11" fill="#225437"/>
<rect x="645" y="507" width="3" height="9" fill="#6ba583"/>
<rect x="652" y="502" width="1" height="19" fill="#737375"/>
<rect x="650" y="506" width="5" height="5" fill="#5b1a13"/>
<rect x="651" y="507" width="3" height="3" fill="#d75442"/>
<rect x="658" y="499" width="1" height="18" fill="#737375"/>
<rect x="656" y="505" width="5" height="6" fill="#225437"/>
<rect x="657" y="506" width="3" height="4" fill="#6ba583"/>
<rect x="664" y="503" width="1" height="11" fill="#737375"/>
<rect x="662" y="505" width="5" height="7" fill="#5b1a13"/>
<rect x="663" y="506" width="3" height="5" fill="#d75442"/>
<rect x="670" y="504" width="1" height="15" fill="#737375"/>
<rect x="668" y="511" width="5" height="5" fill="#5b1a13"/>
<rect x="669" y="512" width="3" height="3" fill="#d75442"/>
<rect x="675" y="510" width="1" height="21" fill="#737375"/>
<rect x="673" y="515" width="5" height="13" fill="#5b1a13"/>
<rect x="674" y="516" width="3" height="11" fill="#d75442"/>
<rect x="681" y="516" width="1" height="15" fill="#737375"/>
<rect x="679" y="524" width="5" height="4" fill="#225437"/>
<rect x="680" y="525" width="3" height="2" fill="#6ba583"/>
<rect x="687" y="521" width="1" height="15" fill="#737375"/>
<rect x="685" y="524" width="5" height="3" fill="#5b1a13"/>
<rect x="686" y="525" width="3" height="1" fill="#d75442"/>
<rect x="693" y="522" width="1" height="12" fill="#737375"/>
<rect x="691" y="522" width="5" height="5" fill="#225437"/>
<rect x="692" y="523" width="3" height="3" fill="#6ba583"/>
<rect x="699" y="506" width="1" height="20" fill="#737375"/>
<rect x="697" y="506" width="5" height="17" fill="#225437"/>
<rect x="698" y="507" width="3" height="15" fill="#6ba583"/>
<rect x="705" y="501" width="1" height="14" fill="#737375"/>
<rect x="703" y="502" width="5" height="5" fill="#225437"/>
<rect x="704" y="503" width="3" height="3" fill="#6ba583"/>
<rect x="711" y="497" width="1" height="10" fill="#737375"/>
<rect x="709" y="502" width="5" height="2" fill="#5b1a13"/>
<rect x="716" y="499" width="1" height="17" fill="#737375"/>
<rect x="714" y="503" width="5" height="4" fill="#5b1a13"/>
<rect x="715" y="504" width="3" height="2" fill="#d75442"/>
<rect x="722" y="503" width="1" height="10" fill="#737375"/>
<rect x="720" y="506" width="5" height="6" fill="#5b1a13"/>
<rect x="721" y="507" width="3" height="4" fill="#d75442"/>
<rect x="728" y="504" width="1" height="9" fill="#737375"/>
<rect x="726" y="504" width="5" height="8" fill="#225437"/>
<rect x="727" y="505" width="3" height="6" fill="#6ba583"/>
<rect x="734" y="464" width="1" height="43" fill="#737375"/>
<rect x="732" y="469" width="5" height="36" fill="#225437"/>
<rect x="733" y="470" width="3" height="34" fill="#6ba583"/>
<rect x="740" y="462" width="1" height="20" fill="#737375"/>
<rect x="738" y="469" width="5" height="7" fill="#5b1a13"/>
<rect x="739" y="470" width="3" height="5" fill="#d75442"/>
<rect x="746" y="464" width="1" height="23" fill="#737375"/>
<rect x="744" y="465" width="5" height="12" fill="#225437"/>
<rect x="745" y="466" width="3" height="10" fill="#6ba583"/>
<rect x="752" y="423" width="1" height="43" fill="#737375"/>
<rect x="750" y="432" width="5" height="34" fill="#225437"/>
<rect x="751" y="433" width="3" height="32" fill="#6ba583"/>
<rect x="758" y="413" width="1" height="23" fill="#737375"/>
<rect x="756" y="420" width="5" height="13" fill="#225437"/>
<rect x="757" y="421" width="3" height="11" fill="#6ba583"/>
<rect x="763" y="388" width="1" height="38" fill="#737375"/>
<rect x="761" y="397" width="5" height="24" fill="#225437"/>
<rect x="762" y="398" width="3" height="22" fill="#6ba583"/>
<rect x="769" y="387" width="1" height="24" fill="#737375"/>
<rect x="767" y="397" width="5" height="4" fill="#5b1a13"/>
<rect x="768" y="398" width="3" height="2" fill="#d75442"/>
<rect x="775" y="353" width="1" height="51" fill="#737375"/>
<rect x="773" y="373" width="5" height="28" fill="#225437"/>
<rect x="774" y="374" width="3" height="26" fill="#6ba583"/>
<rect x="781" y="357" width="1" height="23" fill="#737375"/>
<rect x="779" y="364" width="5" height="10" fill="#225437"/>
<rect x="780" y="365" width="3" height="8" fill="#6ba583"/>
<rect x="787" y="357" width="1" height="43" fill="#737375"/>
<rect x="785" y="364" width="5" height="27" fill="#5b1a13"/>
<rect x="786" y="365" width="3" height="25" fill="#d75442"/>
<rect x="793" y="362" width="1" height="32" fill="#737375"/>
<rect x="791" y="375" width="5" height="16" fill="#225437"/>
<rect x="792" y="376" width="3" height="14" fill="#6ba583"/>
<rect x="799" y="371" width="1" height="45" fill="#737375"/>
<rect x="797" y="375" width="5" height="7" fill="#5b1a13"/>
<rect x="798" y="376" width="3" height="5" fill="#d75442"/>
<rect x="805" y="375" width="1" height="30" fill="#737375"/>
<rect x="803" y="381" width="5" height="23" fill="#5b1a13"/>
<rect x="804" y="382" width="3" height="21" fill="#d75442"/>
<rect x="810" y="395" width="1" height="36" fill="#737375"/>
<rect x="808" y="403" width="5" height="16" fill="#5b1a13"/>
<rect x="809" y="404" width="3" height="14" fill="#d75442"/>
<rect x="816" y="393" width="1" height="39" fill="#737375"/>
<rect x="814" y="402" width="5" height="17" fill="#225437"/>
<rect x="815" y="403" width="3" height="15" fill="#6ba583"/>
<rect x="822" y="375" width="1" height="41" fill="#737375"/>
<rect x="820" y="375" width="5" height="28" fill="#225437"/>
<rect x="821" y="376" width="3" height="26" fill="#6ba583"/>
<rect x="828" y="351" width="1" height="29" fill="#737375"/>
<rect x="826" y="361" width="5" height="15" fill="#225437"/>
<rect x="827" y="362" width="3" height="13" fill="#6ba583"/>
<rect x="834" y="317" width="1" height="45" fill="#737375"/>
<rect x="832" y="326" width="5" height="36" fill="#225437"/>
<rect x="833" y="327" width="3" height="34" fill="#6ba583"/>
<rect x="840" y="285" width="1" height="45" fill="#737375"/>
<rect x="838" y="310" width="5" height="17" fill="#225437"/>
<rect x="839" y="311" width="3" height="15" fill="#6ba583"/>
<rect x="846" y="293" width="1" height="44" fill="#737375"/>
<rect x="844" y="310" width="5" height="2" fill="#5b1a13"/>
<rect x="852" y="302" width="1" height="22" fill="#737375"/>
<rect x="850" y="312" width="5" height="6" fill="#5b1a13"/>
<rect x="851" y="313" width="3" height="4" fill="#d75442"/>
<rect x="857" y="260" width="1" height="62" fill="#737375"/>
<rect x="855" y="264" width="5" height="54" fill="#225437"/>
<rect x="856" y="265" width="3" height="52" fill="#6ba583"/>
<rect x="863" y="260" width="1" height="23" fill="#737375"/>
<rect x="861" y="264" width="5" height="7" fill="#5b1a13"/>
<rect x="862" y="265" width="3" height="5" fill="#d75442"/>
<rect x="869" y="244" width="1" height="35" fill="#737375"/>
<rect x="867" y="254" width="5" height="17" fill="#225437"/>
<rect x="868" y="255" width="3" height="15" fill="#6ba583"/>
<rect x="875" y="223" width="1" height="62" fill="#737375"/>
<rect x="873" y="250" width="5" height="5" fill="#225437"/>
<rect x="874" y="251" width="3" height="3" fill="#6ba583"/>
<rect x="881" y="227" width="1" height="50" fill="#737375"/>
<rect x="879" y="241" width="5" height="10" fill="#225437"/>
<rect x="880" y="242" width="3" height="8" fill="#6ba583"/>
<rect x="887" y="236" width="1" height="26" fill="#737375"/>
<rect x="885" y="239" width="5" height="3" fill="#225437"/>
<rect x="886" y="240" width="3" height="1" fill="#6ba583"/>
<rect x="893" y="238" width="1" height="26" fill="#737375"/>
<rect x="891" y="239" width="5" height="8" fill="#5b1a13"/>
<rect x="892" y="240" width="3" height="6" fill="#d75442"/>
<rect x="898" y="223" width="1" height="38" fill="#737375"/>
<rect x="896" y="246" width="5" height="14" fill="#5b1a13"/>
<rect x="897" y="247" width="3" height="12" fill="#d75442"/>
<rect x="904" y="248" width="1" height="56" fill="#737375"/>
<rect x="902" y="259" width="5" height="29" fill="#5b1a13"/>
<rect x="903" y="260" width="3" height="27" fill="#d75442"/>
<rect x="910" y="260" width="1" height="35" fill="#737375"/>
<rect x="908" y="269" width="5" height="19" fill="#225437"/>
<rect x="909" y="270" width="3" height="17" fill="#6ba583"/>
<rect x="916" y="264" width="1" height="28" fill="#737375"/>
<rect x="914" y="269" width="5" height="4" fill="#5b1a13"/>
<rect x="915" y="270" width="3" height="2" fill="#d75442"/>
<rect x="922" y="266" width="1" height="20" fill="#737375"/>
<rect x="920" y="267" width="5" height="7" fill="#225437"/>
<rect x="921" y="268" width="3" height="5" fill="#6ba583"/>
<rect x="928" y="242" width="1" height="26" fill="#737375"/>
<rect x="926" y="254" width="5" height="14" fill="#225437"/>
<rect x="927" y="255" width="3" height="12" fill="#6ba583"/>
<rect x="934" y="246" width="1" height="29" fill="#737375"/>
<rect x="932" y="254" width="5" height="21" fill="#5b1a13"/>
<rect x="933" y="255" width="3" height="19" fill="#d75442"/>
<rect x="940" y="241" width="1" height="34" fill="#737375"/>
<rect x="938" y="245" width="5" height="30" fill="#225437"/>
<rect x="939" y="246" width="3" height="28" fill="#6ba583"/>
<rect x="945" y="245" width="1" height="16" fill="#737375"/>
<rect x="943" y="246" width="5" height="9" fill="#5b1a13"/>
<rect x="944" y="247" width="3" height="7" fill="#d75442"/>
<rect x="951" y="253" width="1" height="33" fill="#737375"/>
<rect x="949" y="254" width="5" height="18" fill="#5b1a13"/>
<rect x="950" y="255" width="3" height="16" fill="#d75442"/>
<rect x="957" y="262" width="1" height="16" fill="#737375"/>
<rect x="955" y="271" width="5" height="5" fill="#5b1a13"/>
<rect x="956" y="272" width="3" height="3" fill="#d75442"/>
<rect x="963" y="272" width="1" height="26" fill="#737375"/>
<rect x="961" y="275" width="5" height="14" fill="#5b1a13"/>
<rect x="962" y="276" width="3" height="12" fill="#d75442"/>
<rect x="969" y="263" width="1" height="41" fill="#737375"/>
<rect x="967" y="269" width="5" height="20" fill="#225437"/>
<rect x="968" y="270" width="3" height="18" fill="#6ba583"/>
<rect x="975" y="266" width="1" height="31" fill="#737375"/>
<rect x="973" y="269" width="5" height="19" fill="#5b1a13"/>
<rect x="974" y="270" width="3" height="17" fill="#d75442"/>
<rect x="981" y="274" width="1" height="17" fill="#737375"/>
<rect x="979" y="281" width="5" height="7" fill="#225437"/>
<rect x="980" y="282" width="3" height="5" fill="#6ba583"/>
<rect x="987" y="273" width="1" height="24" fill="#737375"/>
<rect x="985" y="281" width="5" height="14" fill="#5b1a13"/>
<rect x="986" y="282" width="3" height="12" fill="#d75442"/>
<rect x="992" y="287" width="1" height="31" fill="#737375"/>
<rect x="990" y="294" width="5" height="18" fill="#5b1a13"/>
<rect x="991" y="295" width="3" height="16" fill="#d75442"/>
<rect x="998" y="305" width="1" height="45" fill="#737375"/>
<rect x="996" y="311" width="5" height="32" fill="#5b1a13"/>
<rect x="997" y="312" width="3" height="30" fill="#d75442"/>
<rect x="1004" y="319" width="1" height="44" fill="#737375"/>
<rect x="1002" y="322" width="5" height="21" fill="#225437"/>
<rect x="1003" y="323" width="3" height="19" fill="#6ba583"/>
<rect x="1010" y="295" width="1" height="35" fill="#737375"/>
<rect x="1008" y="319" width="5" height="4" fill="#225437"/>
<rect x="1009" y="320" width="3" height="2" fill="#6ba583"/>
<rect x="1016" y="300" width="1" height="35" fill="#737375"/>
<rect x="1014" y="319" width="5" height="12" fill="#5b1a13"/>
<rect x="1015" y="320" width="3" height="10" fill="#d75442"/>
<rect x="1022" y="293" width="1" height="42" fill="#737375"/>
<rect x="1020" y="293" width="5" height="38" fill="#225437"/>
<rect x="1021" y="294" width="3" height="36" fill="#6ba583"/>
<rect x="1028" y="254" width="1" height="45" fill="#737375"/>
<rect x="1026" y="288" width="5" height="6" fill="#225437"/>
<rect x="1027" y="289" width="3" height="4" fill="#6ba583"/>
<rect x="1033" y="259" width="1" height="44" fill="#737375"/>
<rect x="1031" y="276" width="5" height="13" fill="#225437"/>
<rect x="1032" y="277" width="3" height="11" fill="#6ba583"/>
<rect x="1039" y="246" width="1" height="43" fill="#737375"/>
<rect x="1037" y="276" width="5" height="10" fill="#5b1a13"/>
<rect x="1038" y="277" width="3" height="8" fill="#d75442"/>
<rect x="1045" y="264" width="1" height="26" fill="#737375"/>
<rect x="1043" y="275" width="5" height="11" fill="#225437"/>
<rect x="1044" y="276" width="3" height="9" fill="#6ba583"/>
<rect x="1051" y="264" width="1" height="31" fill="#737375"/>
<rect x="1049" y="275" width="5" height="19" fill="#5b1a13"/>
<rect x="1050" y="276" width="3" height="17" fill="#d75442"/>
<rect x="1057" y="267" width="1" height="31" fill="#737375"/>
<rect x="1055" y="268" width="5" height="26" fill="#225437"/>
<rect x="1056" y="269" width="3" height="24" fill="#6ba583"/>
<rect x="1063" y="169" width="1" height="106" fill="#737375"/>
<rect x="1061" y="170" width="5" height="99" fill="#225437"/>
<rect x="1062" y="171" width="3" height="97" fill="#6ba583"/>
<rect x="1069" y="149" width="1" height="50" fill="#737375"/>
<rect x="1067" y="154" width="5" height="18" fill="#225437"/>
<rect x="1068" y="155" width="3" height="16" fill="#6ba583"/>
<rect x="1075" y="144" width="1" height="38" fill="#737375"/>
<rect x="1073" y="154" width="5" height="16" fill="#5b1a13"/>
<rect x="1074" y="155" width="3" height="14" fill="#d75442"/>
<rect x="1080" y="114" width="1" height="60" fill="#737375"/>
<rect x="1078" y="145" width="5" height="25" fill="#225437"/>
<rect x="1079" y="146" width="3" height="23" fill="#6ba583"/>
<rect x="1086" y="119" width="1" height="34" fill="#737375"/>
<rect x="1084" y="138" width="5" height="8" fill="#225437"/>
<rect x="1085" y="139" width="3" height="6" fill="#6ba583"/>
<rect x="1092" y="102" width="1" height="38" fill="#737375"/>
<rect x="1090" y="114" width="5" height="25" fill="#225437"/>
<rect x="1091" y="115" width="3" height="23" fill="#6ba583"/>
<rect x="1098" y="112" width="1" height="56" fill="#737375"/>
<rect x="1096" y="114" width="5" height="21" fill="#5b1a13"/>
<rect x="1097" y="115" width="3" height="19" fill="#d75442"/>
<rect x="1104" y="129" width="1" height="34" fill="#737375"/>
<rect x="1102" y="134" width="5" height="15" fill="#5b1a13"/>
<rect x="1103" y="135" width="3" height="13" fill="#d75442"/>
<rect x="1110" y="132" width="1" height="35" fill="#737375"/>
<rect x="1108" y="136" width="5" height="13" fill="#225437"/>
<rect x="1109" y="137" width="3" height="11" fill="#6ba583"/>
<rect x="1116" y="122" width="1" height="25" fill="#737375"/>
<rect x="1114" y="131" width="5" height="6" fill="#225437"/>
<rect x="1115" y="132" width="3" height="4" fill="#6ba583"/>
<rect x="1122" y="131" width="1" height="36" fill="#737375"/>
<rect x="1120" y="131" width="5" height="24" fill="#5b1a13"/>
<rect x="1121" y="132" width="3" height="22" fill="#d75442"/>
<rect x="1127" y="141" width="1" height="21" fill="#737375"/>
<rect x="1125" y="151" width="5" height="4" fill="#225437"/>
<rect x="1126" y="152" width="3" height="2" fill="#6ba583"/>
<rect x="1133" y="145" width="1" height="32" fill="#737375"/>
<rect x="1131" y="151" width="5" height="19" fill="#5b1a13"/>
<rect x="1132" y="152" width="3" height="17" fill="#d75442"/>
<rect x="1139" y="139" width="1" height="37" fill="#737375"/>
<rect x="1137" y="156" width="5" height="14" fill="#225437"/>
<rect x="1138" y="157" width="3" height="12" fill="#6ba583"/>
<rect x="1145" y="115" width="1" height="43" fill="#737375"/>
<rect x="1143" y="133" width="5" height="24" fill="#225437"/>
<rect x="1144" y="134" width="3" height="22" fill="#6ba583"/>
<rect x="1151" y="84" width="1" height="53" fill="#737375"/>
<rect x="1149" y="89" width="5" height="45" fill="#225437"/>
<rect x="1150" y="90" width="3" height="43" fill="#6ba583"/>
<rect x="1157" y="77" width="1" height="20" fill="#737375"/>
<rect x="1155" y="87" width="5" height="3" fill="#225437"/>
<rect x="1156" y="88" width="3" height="1" fill="#6ba583"/>
<rect x="1163" y="85" width="1" height="42" fill="#737375"/>
<rect x="1161" y="87" width="5" height="21" fill="#5b1a13"/>
<rect x="1162" y="88" width="3" height="19" fill="#d75442"/>
<rect x="1169" y="91" width="1" height="25" fill="#737375"/>
<rect x="1167" y="105" width="5" height="3" fill="#225437"/>
<rect x="1168" y="106" width="3" height="1" fill="#6ba583"/>
</g>
</g>
<text x="15.4" y="65.2" font-size="12" fill="#4a4a4a" font-weight="bold" text-anchor="start" textLength="197" lengthAdjust="spacingAndGlyphs">Cardano / TetherUS, 4h, BINANCE</text>
<text x="15.4" y="81.9" font-size="12" fill="#525252" font-weight="normal" text-anchor="start" textLength="100.3" lengthAdjust="spacingAndGlyphs">MA (200, close, 0)</text>
<text x="15.4" y="98.8" font-size="12" fill="#525252" font-weight="normal" text-anchor="start" textLength="100.3" lengthAdjust="spacingAndGlyphs">EMA (20, close, 0)</text>
<text x="15.5" y="721" font-size="12" fill="#525252" font-weight="normal" text-anchor="start" textLength="77.5" lengthAdjust="spacingAndGlyphs">RSI (14, close)</text>
<clipPath id="cr"><rect x="7" y="700" width="1233" height="160"/></clipPath>
<g clip-path="url(#cr)"><polyline points="6.0,838.2 11.9,844.1 17.8,832.1 23.6,799.9 29.5,788.3 35.4,781.4 41.3,794.3 47.1,787.4 53.0,792.1 58.9,784.9 64.7,789.9 70.6,778.4 76.5,780.8 82.4,784.9 88.2,780.4 94.1,783.3 100.0,794.9 105.8,798.8 111.7,802.8 117.6,777.4 123.5,774.5 129.3,774.3 135.2,773.1 141.1,780.4 146.9,775.0 152.8,767.5 158.7,780.3 164.6,772.3 170.4,781.1 176.3,793.3 182.2,791.9 188.0,777.4 193.9,741.6 199.8,736.8 205.7,738.3 211.5,747.6 217.4,749.5 223.3,792.4 229.1,804.1 235.0,794.9 240.9,776.8 246.8,788.3 252.6,800.3 258.5,787.4 264.4,789.6 270.2,780.8 276.1,777.4 282.0,786.3 287.9,790.3 293.7,788.3 299.6,799.6 305.5,795.6 311.3,797.3 317.2,789.1 323.1,791.8 329.0,789.3 334.8,776.6 340.7,787.8 346.6,806.6 352.4,799.1 358.3,794.6 364.2,780.9 370.1,779.6 375.9,783.8 381.8,783.3 387.7,782.8 393.5,787.4 399.4,777.1 405.3,751.1 411.2,763.5 417.0,764.6 422.9,768.0 428.8,775.8 434.6,797.4 440.5,793.3 446.4,782.3 452.3,794.1 458.1,791.9 464.0,800.6 469.9,803.9 475.7,817.7 481.6,806.3 487.5,810.4 493.4,783.6 499.2,771.3 505.1,769.8 511.0,787.9 516.8,792.4 522.7,786.9 528.6,775.8 534.5,770.0 540.3,772.1 546.2,771.6 552.1,779.9 557.9,790.9 563.8,780.8 569.7,772.8 575.6,772.0 581.4,786.3 587.3,780.4 593.2,788.6 599.0,772.5 604.9,765.1 610.8,770.8 616.7,751.3 622.5,759.5 628.4,744.6 634.3,761.1 640.1,767.9 646.0,757.8 651.9,765.3 657.8,759.6 663.6,770.8 669.5,778.3 675.4,797.4 681.3,792.9 687.1,796.3 693.0,790.8 698.9,769.6 704.7,765.3 710.6,767.4 716.5,773.3 722.4,782.4 728.2,772.9 734.1,740.8 740.0,751.6 745.8,744.0 751.7,726.3 757.6,721.1 763.5,714.2 769.3,718.0 775.2,710.3 781.1,708.0 786.9,740.5 792.8,735.0 798.7,742.0 804.6,763.3 810.4,778.3 816.3,768.3 822.2,755.8 828.0,749.1 833.9,736.6 839.8,732.1 845.7,733.6 851.5,739.5 857.4,724.1 863.3,729.6 869.1,725.5 875.0,724.3 880.9,722.1 886.8,721.5 892.6,729.1 898.5,745.0 904.4,768.6 910.2,760.4 916.1,763.3 922.0,760.0 927.9,754.1 933.7,771.9 939.6,758.3 945.5,766.6 951.3,779.1 957.2,782.4 963.1,792.1 969.0,780.8 974.8,793.4 980.7,789.6 986.6,799.1 992.4,811.6 998.3,827.4 1004.2,813.6 1010.1,810.9 1015.9,817.6 1021.8,793.6 1027.7,790.8 1033.5,783.9 1039.4,789.9 1045.3,783.8 1051.2,796.3 1057.0,781.6 1062.9,744.6 1068.8,741.1 1074.6,751.3 1080.5,744.6 1086.4,742.5 1092.3,737.0 1098.1,749.6 1104.0,759.1 1109.9,755.0 1115.7,753.3 1121.6,769.1 1127.5,767.9 1133.4,779.9 1139.2,773.3 1145.1,763.3 1151.0,749.5 1156.8,748.6 1162.7,762.8 1168.6,761.9" fill="none" stroke="#8e1599" stroke-width="1.1" stroke-linejoin="round"/></g>
<line x1="775.4" y1="704" x2="1192" y2="749" stroke="#1c3f87" stroke-width="2.9"/>
<path d="M1058.6 790.3 L1114.2 790.3 L1128.3 745.6 L1129.9 790.3 L1186.2 790.3 Q1194.2 790.3 1194.2 798.3 L1194.2 814.9 Q1194.2 822.9 1186.2 822.9 L1058.6 822.9 Q1050.6 822.9 1050.6 814.9 L1050.6 798.3 Q1050.6 790.3 1058.6 790.3 Z" fill="#b22833" fill-opacity="0" stroke="#b22833" stroke-width="1.5" stroke-linejoin="miter"/>
<text x="1061.6" y="810.3" font-size="12" fill="#b22833" font-weight="normal" text-anchor="start" textLength="121.6" lengthAdjust="spacingAndGlyphs">Negative divergence</text>
<g shape-rendering="crispEdges">
<rect x="6" y="43" width="1297" height="1" fill="#4d4d4d"/>
<rect x="6" y="888" width="1297" height="1" fill="#4d4d4d"/>
<rect x="6" y="43" width="1" height="846" fill="#4d4d4d"/>
<rect x="1302" y="43" width="1" height="846" fill="#4d4d4d"/>
<rect x="1240" y="43" width="1" height="846" fill="#4d4d4d"/>
<rect x="6" y="699" width="1297" height="1" fill="#4d4d4d"/>
<rect x="6" y="860" width="1297" height="1" fill="#4d4d4d"/>
<rect x="53" y="861" width="1" height="4" fill="#4d4d4d"/>
<rect x="194" y="861" width="1" height="4" fill="#4d4d4d"/>
<rect x="300" y="861" width="1" height="4" fill="#4d4d4d"/>
<rect x="405" y="861" width="1" height="4" fill="#4d4d4d"/>
<rect x="511" y="861" width="1" height="4" fill="#4d4d4d"/>
<rect x="599" y="861" width="1" height="4" fill="#4d4d4d"/>
<rect x="687" y="861" width="1" height="4" fill="#4d4d4d"/>
<rect x="793" y="861" width="1" height="4" fill="#4d4d4d"/>
<rect x="934" y="861" width="1" height="4" fill="#4d4d4d"/>
<rect x="1039" y="861" width="1" height="4" fill="#4d4d4d"/>
<rect x="1180" y="861" width="1" height="4" fill="#4d4d4d"/>
<rect x="1241" y="679" width="4" height="1" fill="#4d4d4d"/>
<rect x="1241" y="642" width="4" height="1" fill="#4d4d4d"/>
<rect x="1241" y="606" width="4" height="1" fill="#4d4d4d"/>
<rect x="1241" y="569" width="4" height="1" fill="#4d4d4d"/>
<rect x="1241" y="533" width="4" height="1" fill="#4d4d4d"/>
<rect x="1241" y="496" width="4" height="1" fill="#4d4d4d"/>
<rect x="1241" y="460" width="4" height="1" fill="#4d4d4d"/>
<rect x="1241" y="424" width="4" height="1" fill="#4d4d4d"/>
<rect x="1241" y="387" width="4" height="1" fill="#4d4d4d"/>
<rect x="1241" y="351" width="4" height="1" fill="#4d4d4d"/>
<rect x="1241" y="314" width="4" height="1" fill="#4d4d4d"/>
<rect x="1241" y="278" width="4" height="1" fill="#4d4d4d"/>
<rect x="1241" y="241" width="4" height="1" fill="#4d4d4d"/>
<rect x="1241" y="205" width="4" height="1" fill="#4d4d4d"/>
<rect x="1241" y="169" width="4" height="1" fill="#4d4d4d"/>
<rect x="1241" y="132" width="4" height="1" fill="#4d4d4d"/>
<rect x="1241" y="96" width="4" height="1" fill="#4d4d4d"/>
<rect x="1241" y="59" width="4" height="1" fill="#4d4d4d"/>
<rect x="1241" y="723" width="4" height="1" fill="#4d4d4d"/>
<rect x="1241" y="774" width="4" height="1" fill="#4d4d4d"/>
<rect x="1241" y="825" width="4" height="1" fill="#4d4d4d"/>
</g>
<text x="1249.9" y="683" font-size="10.8" fill="#555555" font-weight="normal" text-anchor="start" textLength="32.3" lengthAdjust="spacingAndGlyphs">1.0000</text>
<text x="1249.9" y="646" font-size="10.8" fill="#555555" font-weight="normal" text-anchor="start" textLength="32.3" lengthAdjust="spacingAndGlyphs">1.1000</text>
<text x="1249.9" y="610" font-size="10.8" fill="#555555" font-weight="normal" text-anchor="start" textLength="32.3" lengthAdjust="spacingAndGlyphs">1.2000</text>
<text x="1249.9" y="573" font-size="10.8" fill="#555555" font-weight="normal" text-anchor="start" textLength="32.3" lengthAdjust="spacingAndGlyphs">1.3000</text>
<text x="1249.9" y="537" font-size="10.8" fill="#555555" font-weight="normal" text-anchor="start" textLength="32.3" lengthAdjust="spacingAndGlyphs">1.4000</text>
<text x="1249.9" y="500" font-size="10.8" fill="#555555" font-weight="normal" text-anchor="start" textLength="32.3" lengthAdjust="spacingAndGlyphs">1.5000</text>
<text x="1249.9" y="464" font-size="10.8" fill="#555555" font-weight="normal" text-anchor="start" textLength="32.3" lengthAdjust="spacingAndGlyphs">1.6000</text>
<text x="1249.9" y="428" font-size="10.8" fill="#555555" font-weight="normal" text-anchor="start" textLength="32.3" lengthAdjust="spacingAndGlyphs">1.7000</text>
<text x="1249.9" y="391" font-size="10.8" fill="#555555" font-weight="normal" text-anchor="start" textLength="32.3" lengthAdjust="spacingAndGlyphs">1.8000</text>
<text x="1249.9" y="355" font-size="10.8" fill="#555555" font-weight="normal" text-anchor="start" textLength="32.3" lengthAdjust="spacingAndGlyphs">1.9000</text>
<text x="1249.9" y="318" font-size="10.8" fill="#555555" font-weight="normal" text-anchor="start" textLength="32.3" lengthAdjust="spacingAndGlyphs">2.0000</text>
<text x="1249.9" y="282" font-size="10.8" fill="#555555" font-weight="normal" text-anchor="start" textLength="32.3" lengthAdjust="spacingAndGlyphs">2.1000</text>
<text x="1249.9" y="245" font-size="10.8" fill="#555555" font-weight="normal" text-anchor="start" textLength="32.3" lengthAdjust="spacingAndGlyphs">2.2000</text>
<text x="1249.9" y="209" font-size="10.8" fill="#555555" font-weight="normal" text-anchor="start" textLength="32.3" lengthAdjust="spacingAndGlyphs">2.3000</text>
<text x="1249.9" y="173" font-size="10.8" fill="#555555" font-weight="normal" text-anchor="start" textLength="32.3" lengthAdjust="spacingAndGlyphs">2.4000</text>
<text x="1249.9" y="136" font-size="10.8" fill="#555555" font-weight="normal" text-anchor="start" textLength="32.3" lengthAdjust="spacingAndGlyphs">2.5000</text>
<text x="1249.9" y="100" font-size="10.8" fill="#555555" font-weight="normal" text-anchor="start" textLength="32.3" lengthAdjust="spacingAndGlyphs">2.6000</text>
<text x="1249.9" y="63" font-size="10.8" fill="#555555" font-weight="normal" text-anchor="start" textLength="32.3" lengthAdjust="spacingAndGlyphs">2.7000</text>
<text x="1250" y="727" font-size="10.8" fill="#555555" font-weight="normal" text-anchor="start" textLength="27.1" lengthAdjust="spacingAndGlyphs">80.00</text>
<text x="1250" y="778" font-size="10.8" fill="#555555" font-weight="normal" text-anchor="start" textLength="27.1" lengthAdjust="spacingAndGlyphs">60.00</text>
<text x="1250" y="829" font-size="10.8" fill="#555555" font-weight="normal" text-anchor="start" textLength="27.1" lengthAdjust="spacingAndGlyphs">40.00</text>
<text x="53.4" y="876.8" font-size="10.6" fill="#555555" font-weight="normal" text-anchor="middle">22</text>
<text x="194.4" y="876.8" font-size="10.6" fill="#555555" font-weight="normal" text-anchor="middle">26</text>
<text x="300.6" y="876.8" font-size="10.6" fill="#555555" font-weight="normal" text-anchor="middle">29</text>
<text x="405.5" y="876.8" font-size="10.6" fill="#555555" font-weight="normal" text-anchor="middle">Aug</text>
<text x="511.5" y="876.8" font-size="10.6" fill="#555555" font-weight="normal" text-anchor="middle">4</text>
<text x="599.7" y="876.8" font-size="10.6" fill="#555555" font-weight="normal" text-anchor="middle">12:00</text>
<text x="687.8" y="876.8" font-size="10.6" fill="#555555" font-weight="normal" text-anchor="middle">9</text>
<text x="793.5" y="876.8" font-size="10.6" fill="#555555" font-weight="normal" text-anchor="middle">12</text>
<text x="934.5" y="876.8" font-size="10.6" fill="#555555" font-weight="normal" text-anchor="middle">16</text>
<text x="1039.8" y="876.8" font-size="10.6" fill="#555555" font-weight="normal" text-anchor="middle">19</text>
<text x="1180.8" y="876.8" font-size="10.6" fill="#555555" font-weight="normal" text-anchor="middle">23</text>
<rect x="1255.5" y="50.5" width="31.5" height="17" rx="3.5" fill="#ffffff" stroke="#d4d6e0" stroke-width="1"/>
<text x="1258.6" y="62.9" font-size="10.6" fill="#4a4a4a" font-weight="normal" text-anchor="start" textLength="24.6" lengthAdjust="spacingAndGlyphs">USDT</text>
<path d="M1240 97 H1296 Q1298 97 1298 99 V125 Q1298 127 1296 127 H1240 Z" fill="#6ba583"/>
<rect x="1240" y="105" width="5" height="1" fill="#ffffff" fill-opacity="0.85" shape-rendering="crispEdges"/>
<text x="1249.9" y="110" font-size="10.8" fill="#ffffff" font-weight="bold" text-anchor="start" textLength="32.8" lengthAdjust="spacingAndGlyphs">2.5747</text>
<text x="1249.9" y="123" font-size="10.8" fill="#ffffff" font-weight="bold" text-anchor="start" textLength="42.9" lengthAdjust="spacingAndGlyphs" fill-opacity="0.78">02:31:00</text>
<path d="M1240 135 H1286 Q1288 135 1288 137 V150 Q1288 152 1286 152 H1240 Z" fill="#0000ff"/>
<rect x="1240" y="143" width="5" height="1" fill="#ffffff" fill-opacity="0.85" shape-rendering="crispEdges"/>
<text x="1249.9" y="148" font-size="10.8" fill="#ffffff" font-weight="bold" text-anchor="start" textLength="32.8" lengthAdjust="spacingAndGlyphs">2.4700</text>
<path d="M1240 152 H1286 Q1288 152 1288 154 V166 Q1288 168 1286 168 H1240 Z" fill="#0c2f9a"/>
<rect x="1240" y="159" width="5" height="1" fill="#ffffff" fill-opacity="0.85" shape-rendering="crispEdges"/>
<text x="1249.9" y="164" font-size="10.8" fill="#ffffff" font-weight="bold" text-anchor="start" textLength="32.8" lengthAdjust="spacingAndGlyphs">2.4456</text>
<path d="M1210 151 H1239 V168 H1210 Q1208 168 1208 166 V153 Q1208 151 1210 151 Z" fill="#0c2f9a"/>
<text x="1213.0" y="164" font-size="10.8" fill="#ffffff" font-weight="bold" text-anchor="start" textLength="20.8" lengthAdjust="spacingAndGlyphs">EMA</text>
<path d="M1240 325 H1286 Q1288 325 1288 327 V340 Q1288 342 1286 342 H1240 Z" fill="#0000ff"/>
<rect x="1240" y="333" width="5" height="1" fill="#ffffff" fill-opacity="0.85" shape-rendering="crispEdges"/>
<text x="1249.9" y="338" font-size="10.8" fill="#ffffff" font-weight="bold" text-anchor="start" textLength="32.8" lengthAdjust="spacingAndGlyphs">1.9487</text>
<path d="M1240 449 H1286 Q1288 449 1288 451 V464 Q1288 466 1286 466 H1240 Z" fill="#f23d30"/>
<rect x="1240" y="457" width="5" height="1" fill="#ffffff" fill-opacity="0.85" shape-rendering="crispEdges"/>
<text x="1249.9" y="462" font-size="10.8" fill="#ffffff" font-weight="bold" text-anchor="start" textLength="32.8" lengthAdjust="spacingAndGlyphs">1.6085</text>
<path d="M1216 449 H1239 V466 H1216 Q1214 466 1214 464 V451 Q1214 449 1216 449 Z" fill="#f23d30"/>
<text x="1218.7" y="462" font-size="10.8" fill="#ffffff" font-weight="bold" text-anchor="start" textLength="14.4" lengthAdjust="spacingAndGlyphs">MA</text>
<path d="M1240 671 H1286 Q1288 671 1288 673 V686 Q1288 688 1286 688 H1240 Z" fill="#0000ff"/>
<rect x="1240" y="679" width="5" height="1" fill="#ffffff" fill-opacity="0.85" shape-rendering="crispEdges"/>
<text x="1249.9" y="684" font-size="10.8" fill="#ffffff" font-weight="bold" text-anchor="start" textLength="32.8" lengthAdjust="spacingAndGlyphs">1.0000</text>
<path d="M1240 754 H1281 Q1283 754 1283 756 V769 Q1283 771 1281 771 H1240 Z" fill="#8e1599"/>
<rect x="1240" y="762" width="5" height="1" fill="#ffffff" fill-opacity="0.85" shape-rendering="crispEdges"/>
<text x="1250" y="767" font-size="10.8" fill="#ffffff" font-weight="bold" text-anchor="start" textLength="27.2" lengthAdjust="spacingAndGlyphs">64.65</text>
<path d="M1216 754 H1239 V771 H1216 Q1214 771 1214 769 V756 Q1214 754 1216 754 Z" fill="#8e1599"/>
<text x="1218.3" y="767" font-size="10.8" fill="#ffffff" font-weight="bold" text-anchor="start" textLength="14.2" lengthAdjust="spacingAndGlyphs">RSI</text>
<path d="M6 900.5 H15.3 V911.6 H10 V904.5 H6 Z" fill="#131722"/>
<circle cx="19" cy="902.5" r="1.9" fill="#131722"/>
<path d="M22.3 900.5 H28.6 L24.4 911.6 H18.8 Z" fill="#131722"/>
<text x="33.6" y="911.7" font-size="15.9" fill="#131722" font-weight="bold" text-anchor="start" textLength="91.2" lengthAdjust="spacingAndGlyphs">TradingView</text>
</svg>
</body></html>
